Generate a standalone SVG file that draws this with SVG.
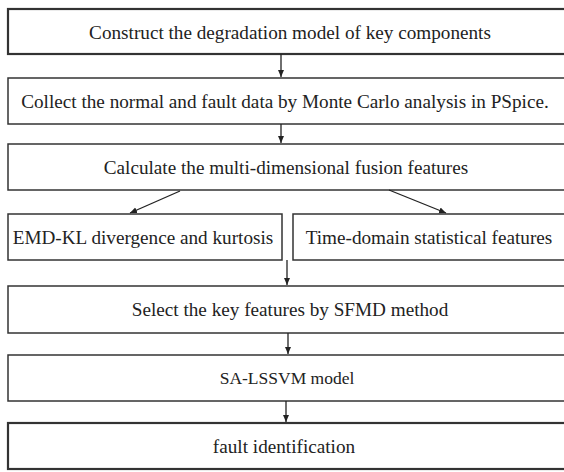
<svg xmlns="http://www.w3.org/2000/svg" width="564" height="472" viewBox="0 0 564 472">
  <style>
    .box { fill: #fff; stroke: #333; stroke-width: 1.5; }
    .lbl { font-family: "Liberation Serif", "Times New Roman", serif; font-size: 19.2px; fill: #222; text-anchor: middle; }
    .sm { font-size: 17.5px; }
    .conn { stroke: #222; stroke-width: 1.3; fill: none; marker-end: url(#arrow); }
  </style>
  <defs>
    <marker id="arrow" markerWidth="8" markerHeight="8" refX="7" refY="4" orient="auto" markerUnits="userSpaceOnUse">
      <path d="M0,1 L7,4 L0,7 Z" fill="#222"/>
    </marker>
  </defs>
  <rect width="564" height="472" fill="#fff"/>

  <g id="construct">
    <rect class="box" x="8" y="9" width="570" height="45" style="stroke-width:2.2"/>
    <text class="lbl" x="290" y="38.5">Construct the degradation model of key components</text>
  </g>
  <g id="collect">
    <rect class="box" x="8" y="78" width="570" height="46"/>
    <text class="lbl" x="285" y="107.5">Collect the normal and fault data by Monte Carlo analysis in PSpice.</text>
  </g>
  <g id="calculate">
    <rect class="box" x="8" y="144" width="570" height="46"/>
    <text class="lbl" x="286" y="173.5">Calculate the multi-dimensional fusion features</text>
  </g>
  <g id="emd">
    <rect class="box" x="8" y="214" width="274" height="46"/>
    <text class="lbl" x="143" y="243.5">EMD-KL divergence and kurtosis</text>
  </g>
  <g id="timedomain">
    <rect class="box" x="293" y="214" width="285" height="46"/>
    <text class="lbl" x="429" y="243.5">Time-domain statistical features</text>
  </g>
  <g id="select">
    <rect class="box" x="8" y="286" width="570" height="47"/>
    <text class="lbl" x="290" y="315.5">Select the key features by SFMD method</text>
  </g>
  <g id="salssvm">
    <rect class="box" x="8" y="355" width="570" height="46"/>
    <text class="lbl sm" x="287" y="383.5">SA-LSSVM model</text>
  </g>
  <g id="fault">
    <rect class="box" x="8" y="423" width="570" height="46" style="stroke-width:2.2"/>
    <text class="lbl" x="284" y="452.5">fault identification</text>
  </g>

  <g id="connectors">
    <line class="conn" x1="281" y1="54" x2="281" y2="77"/>
    <line class="conn" x1="281" y1="124" x2="281" y2="143"/>
    <line class="conn" x1="180" y1="191" x2="130" y2="213"/>
    <line class="conn" x1="389" y1="190" x2="446" y2="213"/>
    <line class="conn" x1="287" y1="260" x2="287" y2="285"/>
    <line class="conn" x1="288" y1="333" x2="288" y2="354"/>
    <line class="conn" x1="286" y1="401" x2="286" y2="422"/>
  </g>
</svg>
